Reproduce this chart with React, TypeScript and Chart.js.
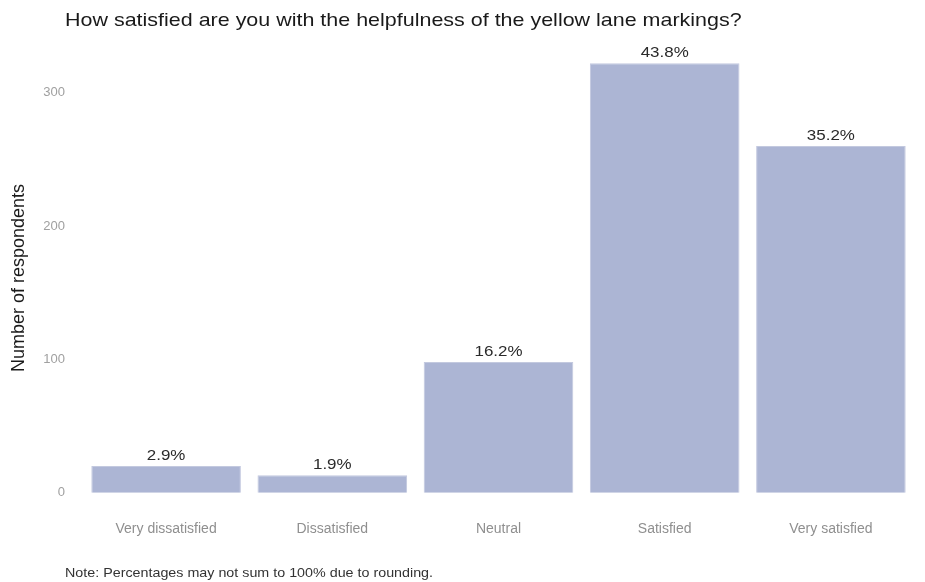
import React, { useEffect, useRef } from "react";
import { Chart, registerables } from "chart.js";

Chart.register(...registerables);

const categories = ["Very dissatisfied", "Dissatisfied", "Neutral", "Satisfied", "Very satisfied"];
const respondents = [20, 13, 98, 322, 260];
const percentLabels = ["2.9%", "1.9%", "16.2%", "43.8%", "35.2%"];
const yTicks = [0, 100, 200, 300];
const titleText = "How satisfied are you with the helpfulness of the yellow lane markings?";
const noteText = "Note: Percentages may not sum to 100% due to rounding.";

const FONT = "'Liberation Sans', Arial, sans-serif";

function drawStretched(ctx: any, text: string, x: number, y: number, font: string, xScale: number, align: string) {
  ctx.save();
  ctx.font = font;
  const w = ctx.measureText(text).width * xScale;
  let left = x;
  if (align === "center") left = x - w / 2;
  ctx.translate(left, y);
  ctx.scale(xScale, 1);
  ctx.textAlign = "left";
  ctx.fillText(text, 0, 0);
  ctx.restore();
}

const textPlugin = {
  id: "textPlugin",
  afterDatasetsDraw(chart: any) {
    const ctx = chart.ctx;
    const meta = chart.getDatasetMeta(0);
    ctx.save();
    ctx.fillStyle = "#2a2a2a";
    ctx.textBaseline = "bottom";
    meta.data.forEach((bar: any, i: number) => {
      drawStretched(ctx, percentLabels[i], bar.x, bar.y - 3, `15px ${FONT}`, 1.13, "center");
    });
    ctx.restore();
  },
  afterDraw(chart: any) {
    const ctx = chart.ctx;
    ctx.save();
    ctx.textBaseline = "middle";
    ctx.fillStyle = "#1a1a1a";
    drawStretched(ctx, titleText, 65, 21, `19px ${FONT}`, 1.13, "left");
    ctx.fillStyle = "#333333";
    drawStretched(ctx, noteText, 65, 573, `13px ${FONT}`, 1.1, "left");
    ctx.restore();
  },
};

export default function App() {
  const ref = useRef<HTMLCanvasElement>(null);
  useEffect(() => {
    if (!ref.current) return;
    const chart = new Chart(ref.current, {
      type: "bar",
      data: {
        labels: categories,
        datasets: [
          {
            data: respondents,
            backgroundColor: "rgba(168,177,210,0.95)",
            borderColor: "rgba(180,188,215,0.8)",
            borderWidth: 1,
            categoryPercentage: 0.9,
            barPercentage: 1,
          },
        ],
      },
      options: {
        responsive: false,
        animation: false,
        layout: { padding: { left: 8, right: 11, top: 42, bottom: 28 } },
        plugins: {
          legend: { display: false },
          tooltip: { enabled: false },
          title: { display: false },
        },
        scales: {
          x: {
            grid: { display: false, drawTicks: false },
            border: { display: false },
            ticks: { color: "#8f8f8f", font: { family: FONT, size: 14 }, padding: 7 },
            afterFit: (s: any) => {
              s.height = 40;
            },
          },
          y: {
            min: -16,
            max: 338,
            grid: { display: false, drawTicks: false },
            border: { display: false },
            ticks: { color: "#a0a0a0", font: { family: FONT, size: 13 }, padding: 18 },
            afterBuildTicks: (s: any) => {
              s.ticks = yTicks.map((v) => ({ value: v }));
            },
            afterFit: (s: any) => {
              s.width = 75;
            },
            title: {
              display: true,
              text: "Number of respondents",
              color: "#1a1a1a",
              font: { family: FONT, size: 18 },
              padding: { top: 0, bottom: 0 },
            },
          },
        },
      },
      plugins: [textPlugin],
    });
    return () => chart.destroy();
  }, []);
  return (
    <div style={{ position: "fixed", left: 0, top: 0, width: 925, height: 582, background: "#fff" }}>
      <canvas ref={ref} width={925} height={582} style={{ width: 925, height: 582 }} />
    </div>
  );
}
